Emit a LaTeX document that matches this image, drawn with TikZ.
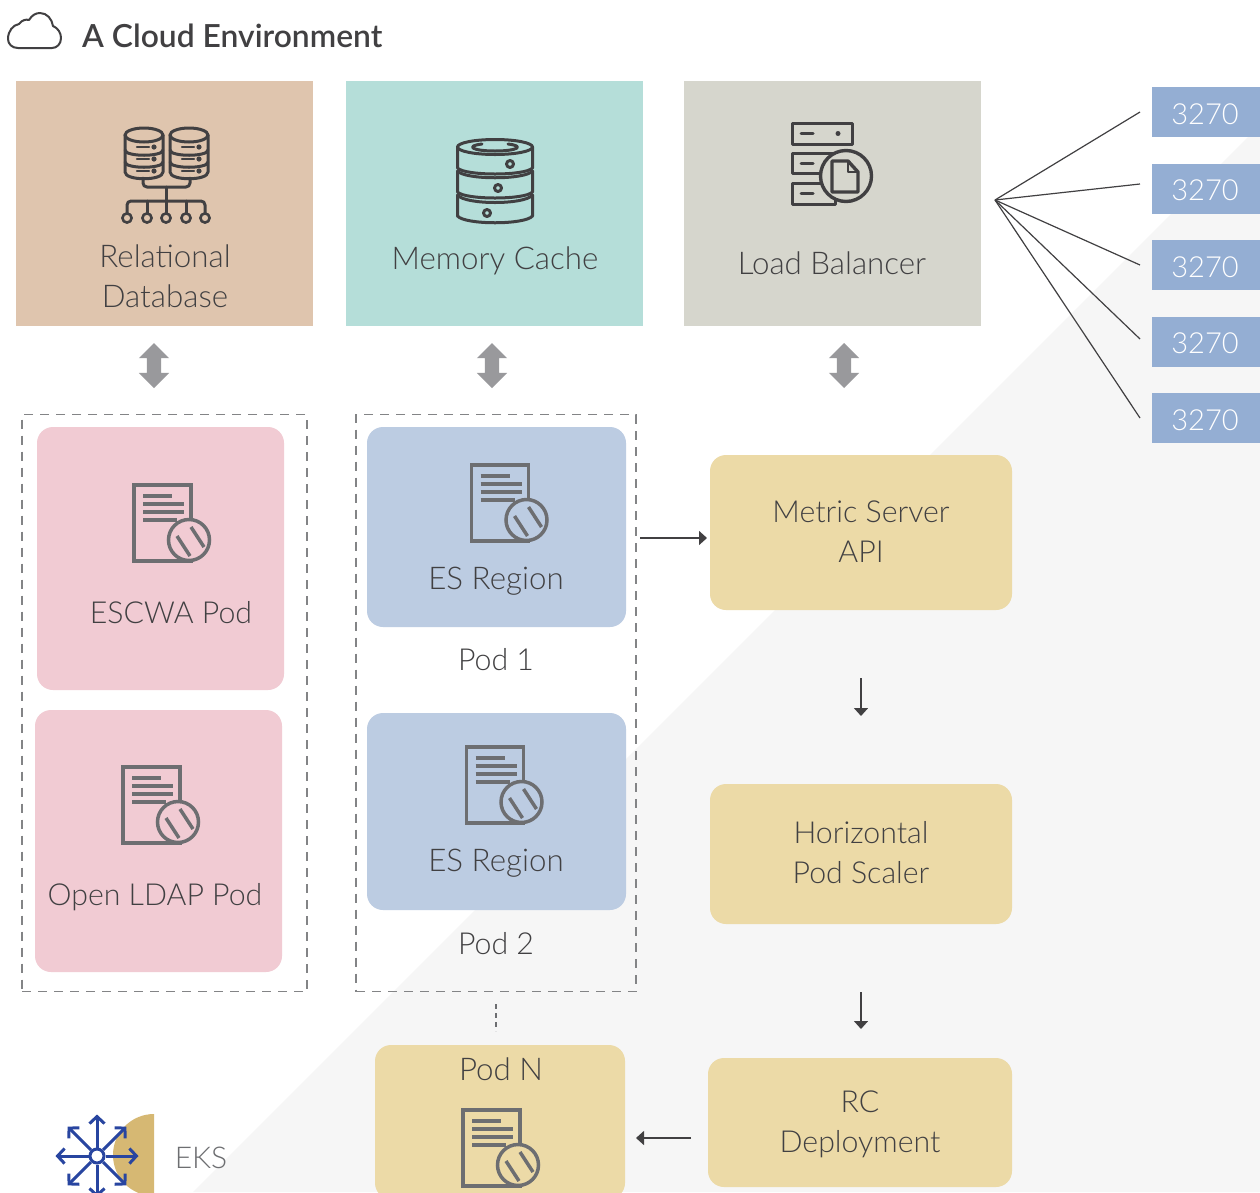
\documentclass[tikz,border=0pt]{standalone}
\usepackage{fontspec}
\setmainfont{Lato}[UprightFont=* Light,BoldFont=* Semibold]
\usetikzlibrary{arrows.meta,shapes.arrows}

\definecolor{inkdark}{HTML}{414042}
\definecolor{icongray}{HTML}{6D6E71}
\definecolor{pagegray}{HTML}{F6F6F6}
\definecolor{dbtan}{HTML}{DFC5AE}
\definecolor{cacheteal}{HTML}{B5DED9}
\definecolor{lbstone}{HTML}{D6D6CD}
\definecolor{portblue}{HTML}{94AED3}
\definecolor{podpink}{HTML}{F1CBD3}
\definecolor{podblue}{HTML}{BCCCE2}
\definecolor{podsand}{HTML}{ECDAA7}
\definecolor{ekspath}{HTML}{2845A0}
\definecolor{eksgold}{HTML}{D6B873}

\tikzset{
  label text/.style={text=inkdark, align=center, font=\fontsize{31.3}{40}\selectfont},
  small label/.style={label text, font=\fontsize{30.3}{40}\selectfont},
  flat box/.style={rectangle, inner sep=0pt},
  pod box/.style={rectangle, rounded corners=16pt, inner sep=0pt},
  port box/.style={flat box, fill=portblue, minimum width=108pt, minimum height=50pt},
  port text/.style={text=white, font=\fontsize{29}{40}\selectfont},
  pod frame/.style={rectangle, draw=icongray!85, line width=1.4pt, dash pattern=on 9pt off 7pt, inner sep=0pt},
  both ways/.style={double arrow, double arrow head extend=8pt, minimum width=30pt, minimum height=45pt,
    inner xsep=0pt, inner ysep=7pt, fill=icongray!70, rotate=90},
  fan line/.style={draw=inkdark, line width=1.2pt},
  flow arrow/.style={draw=inkdark, line width=1.5pt, -{Triangle[length=8pt,width=14pt]}},
  icon line/.style={draw=inkdark, line width=3pt, line join=round, line cap=round},
  pics/docicon/.style={code={
    \draw[icongray, line width=3.5pt] (0,0) rectangle (57,76);
    \foreach \ya/\xb in {11/38,19/50,27/50,35/43}
      \draw[icongray, line width=4pt] (9,\ya) -- (\xb,\ya);
    \draw[icongray, line width=3.5pt, fill=#1] (55,55) circle (20.5pt);
    \draw[icongray, line width=3.5pt] (43,51) -- (56,71);
    \draw[icongray, line width=3.5pt] (57,42) -- (70,62);
  }},
  pics/dbdrum/.style={code={
    \draw[icon line] (0,7) -- (0,44) .. controls (0,53) and (38,53) .. (38,44) -- (38,7);
    \draw[icon line] (19,7) ellipse (19pt and 7pt);
    \draw[icon line] (0,22) .. controls (0,29) and (38,29) .. (38,22);
    \draw[icon line] (0,34) .. controls (0,41) and (38,41) .. (38,34);
    \foreach \ya in {19,31,43} {
      \draw[icon line, line width=2.4pt] (12,\ya) -- (24,\ya);
      \fill[inkdark] (29,\ya) circle (2.6pt);
    }
  }}
}

\begin{document}
\begin{tikzpicture}[x=1pt,y=-1pt]
  \useasboundingbox (0,0) rectangle (1260,1192);

  % page and grey corner
  \fill[white] (0,0) rectangle (1260,1192);
  \fill[pagegray] (1260,125) -- (1260,1192) -- (193,1192) -- cycle;

  % heading
  \draw[icon line, line width=2pt] (18,48) .. controls (12,48) and (8,44) .. (8,39)
    .. controls (8,31) and (13,25) .. (19,24) .. controls (22,20) and (26,19) .. (29,20)
    .. controls (32,15) and (36,13) .. (40,13) .. controls (47,13) and (52,19) .. (53,26)
    .. controls (58,28) and (61,33) .. (61,38) .. controls (61,44) and (57,48) .. (52,48) -- cycle;
  \node[anchor=west, inner sep=0pt, text=inkdark, font=\bfseries\fontsize{31.8}{36}\selectfont] (title) at (82,36) {A Cloud Environment};

  % top services
  \node[flat box, fill=dbtan, minimum width=297pt, minimum height=245pt] (reldb) at (164.5,203.5) {};
  \node[flat box, fill=cacheteal, minimum width=297pt, minimum height=245pt] (memcache) at (494.5,203.5) {};
  \node[flat box, fill=lbstone, minimum width=297pt, minimum height=245pt] (loadbal) at (832.5,203.5) {};
  \node[label text] (reldbtext) at (165,276.5) {Relational\\Database};
  \node[label text] (memcachetext) at (495,261) {Memory Cache};
  \node[label text] (loadbaltext) at (832,263.5) {Load Balancer};

  % database icon
  \pic (drumleft) at (125,128) {dbdrum};
  \pic (drumright) at (170,128) {dbdrum};
  \draw[icon line, rounded corners=4pt] (143,178) -- (143,187) -- (190,187) -- (190,178);
  \draw[icon line] (166,187) -- (166,213);
  \draw[icon line, rounded corners=4pt] (127,213) -- (127,201) -- (205,201) -- (205,213);
  \draw[icon line] (147,201) -- (147,213);
  \draw[icon line] (186,201) -- (186,213);
  \foreach \xa in {127,147,166,186,205}
    \draw[icon line, line width=2.6pt] (\xa,218) circle (4.6pt);

  % cache icon
  \draw[icon line] (495,147) ellipse (37.5pt and 7.5pt);
  \draw[icon line] (482,144) .. controls (465,146) and (472,151) .. (495,151)
    .. controls (518,151) and (525,146) .. (508,144);
  \draw[icon line] (457.5,147) -- (457.5,168) .. controls (465,176) and (525,176) .. (532.5,168) -- (532.5,147);
  \draw[icon line] (457.5,171) -- (457.5,192) .. controls (465,200) and (525,200) .. (532.5,192) -- (532.5,171);
  \draw[icon line] (457.5,171) .. controls (465,180) and (525,180) .. (532.5,171);
  \draw[icon line] (457.5,195) -- (457.5,216) .. controls (465,225) and (525,225) .. (532.5,216) -- (532.5,195);
  \draw[icon line] (457.5,195) .. controls (465,205) and (525,205) .. (532.5,195);
  \draw[icon line] (510,164) circle (3.5pt);
  \draw[icon line] (498,188) circle (3.5pt);
  \draw[icon line] (487,213) circle (3.5pt);

  % balancer icon
  \draw[icon line] (792,123) rectangle (852,144);
  \draw[icon line] (792,153) rectangle (835,173);
  \draw[icon line] (792,183) rectangle (835,204);
  \draw[icon line] (801,133.5) -- (813,133.5);
  \draw[icon line] (801,163) -- (813,163);
  \draw[icon line] (801,193) -- (813,193);
  \fill[inkdark] (838,133.5) circle (2.5pt);
  \draw[icon line, line width=3.4pt, fill=lbstone] (846,176) circle (25.5pt);
  \draw[icon line, line width=3.4pt] (832,161) -- (848,161) -- (858,172) -- (858,192) -- (832,192) -- cycle;
  \draw[icon line, line width=2pt] (848,161) -- (848,172) -- (858,172);

  % ports
  \node[port box] (portone) at (1206,112) {};
  \node[port box] (porttwo) at (1206,189) {};
  \node[port box] (portthree) at (1206,265) {};
  \node[port box] (portfour) at (1206,342) {};
  \node[port box] (portfive) at (1206,418) {};
  \node[port text] (portonetext) at (1205,114) {3270};
  \node[port text] (porttwotext) at (1205,190) {3270};
  \node[port text] (portthreetext) at (1205,267) {3270};
  \node[port text] (portfourtext) at (1205,343) {3270};
  \node[port text] (portfivetext) at (1205,420) {3270};

  % fan to the ports
  \coordinate (fanroot) at (995,200);
  \coordinate (fanone) at (1140,112);
  \coordinate (fantwo) at (1140,184);
  \coordinate (fanthree) at (1140,265);
  \coordinate (fanfour) at (1140,339);
  \coordinate (fanfive) at (1140,418);
  \foreach \fanend in {fanone,fantwo,fanthree,fanfour,fanfive}
    \draw[fan line] (fanroot) -- (\fanend);

  % double arrows
  \node[both ways] (dbway) at (154,365.5) {};
  \node[both ways] (cacheway) at (492,365.5) {};
  \node[both ways] (lbway) at (844,365.5) {};

  % dashed frames
  \node[pod frame, minimum width=285pt, minimum height=577pt] (leftframe) at (164.5,703) {};
  \node[pod frame, minimum width=280pt, minimum height=577pt] (midframe) at (496,703) {};

  % pods on the left
  \node[pod box, fill=podpink, minimum width=247pt, minimum height=263pt] (escwa) at (160.5,558.5) {};
  \node[pod box, fill=podpink, minimum width=247pt, minimum height=262pt] (ldap) at (158.5,841) {};
  \node[small label] (escwatext) at (171,613) {ESCWA Pod};
  \node[small label] (ldaptext) at (155,897) {Open LDAP Pod};
  \pic (escwadoc) at (134,485) {docicon=podpink};
  \pic (ldapdoc) at (123,767) {docicon=podpink};

  % pods in the middle
  \node[pod box, fill=podblue, minimum width=259pt, minimum height=200pt] (esone) at (496.5,527) {};
  \node[pod box, fill=podblue, minimum width=259pt, minimum height=197pt] (estwo) at (496.5,811.5) {};
  \node[label text] (esonetext) at (496,581) {ES Region};
  \node[label text] (estwotext) at (496,863) {ES Region};
  \node[small label] (podonetext) at (496,660) {Pod 1};
  \node[small label] (podtwotext) at (496,944) {Pod 2};
  \pic (esonedoc) at (471.5,465) {docicon=podblue};
  \pic (estwodoc) at (466.5,747) {docicon=podblue};

  % pod n
  \coordinate (gaptop) at (496,1004);
  \coordinate (gapend) at (496,1031);
  \draw[draw=icongray, line width=1.2pt, dash pattern=on 5pt off 4pt] (gaptop) -- (gapend);
  \node[pod box, fill=podsand, minimum width=250pt, minimum height=154pt] (podn) at (500,1122) {};
  \node[label text] (podntext) at (501,1069) {Pod N};
  \pic (podndoc) at (463,1110) {docicon=podsand};

  % scaling chain
  \node[pod box, fill=podsand, minimum width=302pt, minimum height=155pt] (metric) at (861,532.5) {};
  \node[pod box, fill=podsand, minimum width=302pt, minimum height=140pt] (scaler) at (861,854) {};
  \node[pod box, fill=podsand, minimum width=304pt, minimum height=129pt] (rcdeploy) at (860,1122.5) {};
  \node[small label] (metrictext) at (861,531.5) {Metric Server\\API};
  \node[small label] (scalertext) at (861,853) {Horizontal\\Pod Scaler};
  \node[small label] (rcdeploytext) at (860,1124) {RC\\Deployment};

  \coordinate (metricfrom) at (640,538);
  \coordinate (metricto) at (707,538);
  \coordinate (scalerfrom) at (861,678);
  \coordinate (scalerto) at (861,716);
  \coordinate (rcfrom) at (861,992);
  \coordinate (rcto) at (861,1029);
  \coordinate (podnfrom) at (691,1138);
  \coordinate (podnto) at (636,1138);
  \draw[flow arrow] (metricfrom) -- (metricto);
  \draw[flow arrow] (scalerfrom) -- (scalerto);
  \draw[flow arrow] (rcfrom) -- (rcto);
  \draw[flow arrow] (podnfrom) -- (podnto);

  % eks badge
  \fill[eksgold] (154,1114) arc (90:270:41pt) -- cycle;
  \node[circle, draw=ekspath, line width=3pt, fill=white, minimum size=14pt, inner sep=0pt] (ekshub) at (97,1156) {};
  \foreach \ang in {0,45,...,315}
    \draw[draw=ekspath, line width=3pt, -{Straight Barb[length=7pt,width=15pt]}] (ekshub.\ang) -- ++(\ang:33pt);
  \node[text=icongray, font=\fontsize{30}{36}\selectfont] (ekstext) at (201,1158) {EKS};
\end{tikzpicture}
\end{document}
